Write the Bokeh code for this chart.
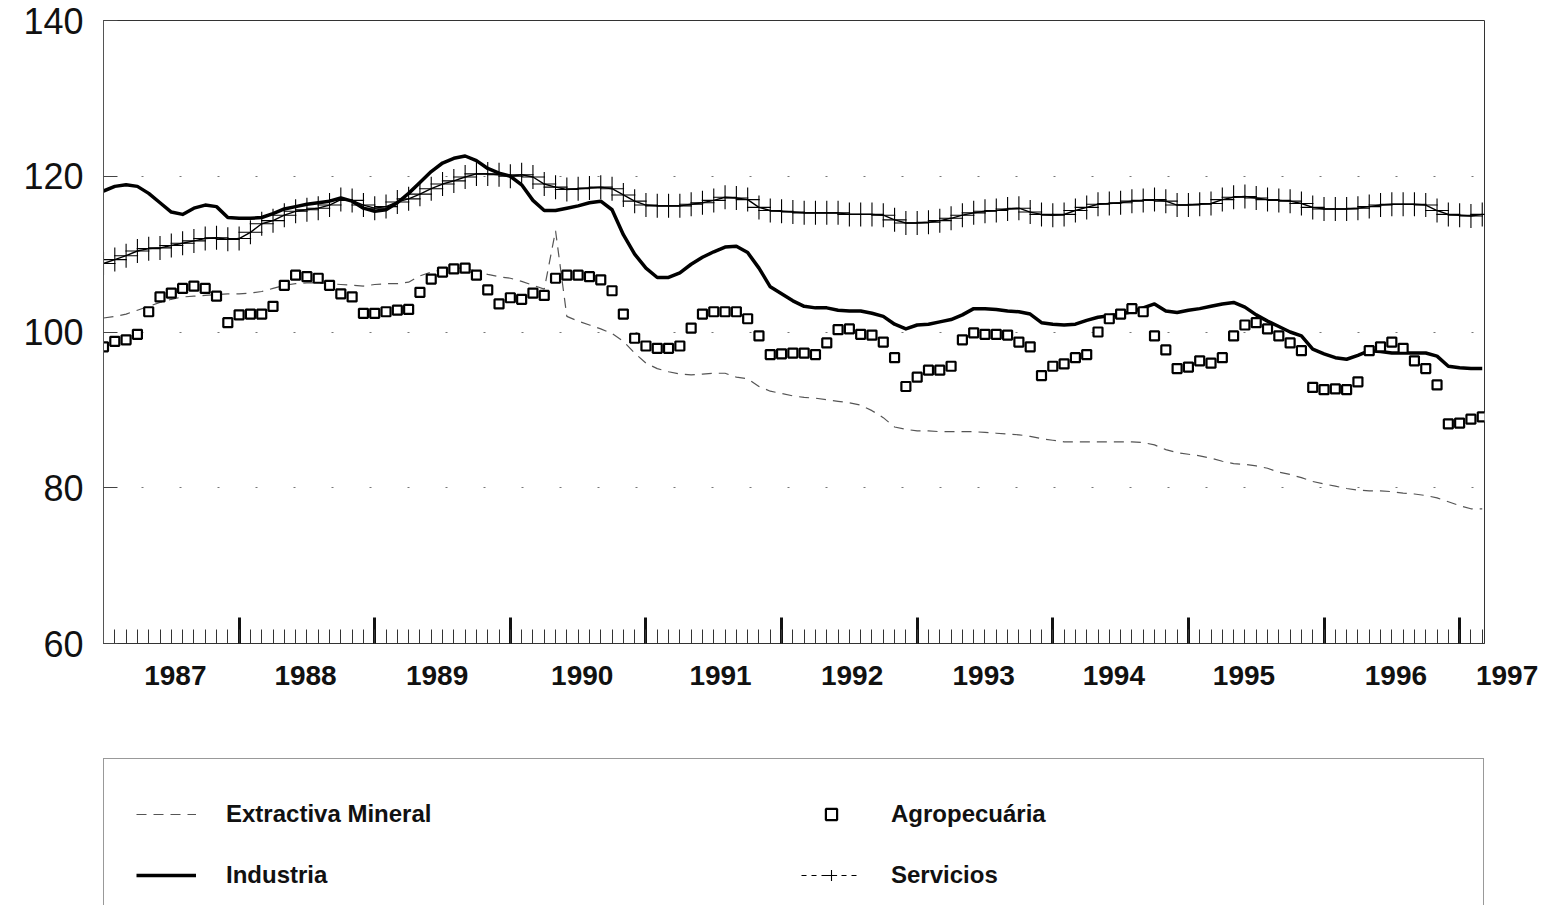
from bokeh.plotting import figure
from bokeh.models import (Range1d, FixedTicker, CustomJSTickFormatter, Legend, LegendItem)
from bokeh.embed import file_html
from bokeh.resources import INLINE

# ---------------- data (monthly, Jan 1987 .. Mar 1997) ----------------
start_year = 1987
n_months = 123
months = [start_year + i / 12 for i in range(n_months)]

extractiva = [101.8, 102.0, 102.3, 102.8, 103.3, 103.8, 104.2, 104.5, 104.6, 104.7, 104.8, 104.9,
              104.9, 105.0, 105.2, 105.6, 106.0, 106.2, 106.3, 106.3, 106.2, 106.1, 106.0, 105.9,
              106.1, 106.2, 106.2, 106.4, 107.2, 107.7, 108.0, 108.2, 108.2, 107.8, 107.4, 107.1,
              106.9, 106.5, 106.0, 105.5, 113.0, 102.0, 101.4, 100.9, 100.4, 99.8, 98.8, 97.3,
              96.0, 95.3, 94.9, 94.6, 94.5, 94.6, 94.7, 94.7, 94.2, 94.0, 93.0, 92.4,
              92.1, 91.8, 91.6, 91.5, 91.3, 91.1, 90.9, 90.6, 89.9, 89.0, 87.8, 87.5,
              87.3, 87.3, 87.2, 87.2, 87.2, 87.2, 87.1, 87.0, 86.9, 86.8, 86.6, 86.3,
              86.1, 85.9, 85.9, 85.9, 85.9, 85.9, 85.9, 85.9, 85.8, 85.5, 84.9, 84.5,
              84.3, 84.1, 83.8, 83.4, 83.1, 83.0, 82.8, 82.5, 82.0, 81.7, 81.3, 80.8,
              80.5, 80.2, 79.9, 79.7, 79.6, 79.6, 79.5, 79.3, 79.2, 79.0, 78.7, 78.2,
              77.7, 77.3, 77.3]

industria = [118.1, 118.7, 118.9, 118.7, 117.8, 116.6, 115.4, 115.1, 115.9, 116.3, 116.1, 114.7,
             114.6, 114.6, 114.7, 115.2, 115.8, 116.1, 116.4, 116.6, 116.8, 117.2, 116.8, 115.9,
             115.5, 115.7, 116.6, 117.8, 119.2, 120.6, 121.7, 122.3, 122.6, 122.0, 121.0, 120.4,
             120.0, 118.9, 116.9, 115.6, 115.6, 115.9, 116.2, 116.6, 116.8, 115.7, 112.5, 110.0,
             108.2, 107.0, 107.0, 107.6, 108.7, 109.6, 110.3, 110.9, 111.0, 110.2, 108.2, 105.8,
             104.9, 104.0, 103.3, 103.1, 103.1, 102.8, 102.7, 102.7, 102.4, 102.0, 101.0, 100.4,
             100.9, 101.0, 101.3, 101.6, 102.2, 103.0, 103.0, 102.9, 102.7, 102.6, 102.3, 101.2,
             101.0, 100.9, 101.0, 101.5, 101.9, 102.1, 102.3, 102.6, 103.1, 103.6, 102.7, 102.5,
             102.8, 103.0, 103.3, 103.6, 103.8, 103.2, 102.2, 101.4, 100.7, 100.0, 99.5, 97.8,
             97.2, 96.7, 96.5, 97.0, 97.6, 97.5, 97.3, 97.3, 97.3, 97.3, 96.9, 95.6,
             95.4, 95.3, 95.3]

agropecuaria = [98.1, 98.8, 99.0, 99.7, 102.6, 104.5, 105.0, 105.6, 105.9, 105.6, 104.6, 101.2,
                102.2, 102.3, 102.3, 103.3, 106.0, 107.3, 107.1, 106.9, 106.0, 104.9, 104.5, 102.4,
                102.4, 102.6, 102.8, 102.9, 105.1, 106.8, 107.7, 108.1, 108.2, 107.3, 105.4, 103.6,
                104.4, 104.2, 105.0, 104.7, 106.9, 107.3, 107.3, 107.1, 106.7, 105.3, 102.3, 99.2,
                98.2, 97.9, 97.9, 98.2, 100.5, 102.3, 102.6, 102.6, 102.6, 101.7, 99.5, 97.1,
                97.2, 97.3, 97.3, 97.1, 98.6, 100.3, 100.4, 99.7, 99.6, 98.7, 96.7, 93.0,
                94.2, 95.1, 95.1, 95.6, 99.0, 99.9, 99.7, 99.7, 99.6, 98.7, 98.1, 94.4,
                95.6, 95.9, 96.7, 97.1, 100.0, 101.7, 102.3, 103.0, 102.6, 99.5, 97.7, 95.3,
                95.5, 96.3, 96.0, 96.7, 99.5, 100.9, 101.2, 100.4, 99.5, 98.6, 97.6, 92.9,
                92.6, 92.7, 92.6, 93.6, 97.6, 98.1, 98.7, 97.9, 96.3, 95.3, 93.2, 88.2,
                88.3, 88.8, 89.1]

servicios = [108.8, 109.3, 109.8, 110.4, 110.7, 110.8, 111.1, 111.4, 111.7, 112.0, 112.1, 111.9,
             112.0, 112.8, 113.9, 114.3, 115.0, 115.5, 115.7, 115.9, 116.3, 117.0, 116.9, 116.3,
             115.9, 116.1, 116.7, 117.1, 117.7, 118.4, 119.0, 119.4, 119.9, 120.3, 120.3, 120.2,
             120.0, 120.2, 119.9, 119.0, 118.6, 118.3, 118.4, 118.5, 118.6, 118.4, 117.6, 116.8,
             116.3, 116.2, 116.2, 116.2, 116.4, 116.6, 116.9, 117.3, 117.2, 117.0, 116.0, 115.6,
             115.5, 115.4, 115.3, 115.3, 115.3, 115.3, 115.1, 115.1, 115.1, 115.0, 114.4, 114.0,
             114.0, 114.1, 114.3, 114.6, 115.0, 115.3, 115.5, 115.6, 115.8, 115.9, 115.4, 115.1,
             115.0, 115.1, 115.6, 116.0, 116.4, 116.5, 116.6, 116.8, 116.9, 117.0, 116.8, 116.3,
             116.3, 116.4, 116.5, 117.0, 117.3, 117.4, 117.2, 117.0, 116.9, 116.8, 116.5, 116.0,
             115.8, 115.8, 115.8, 115.9, 116.1, 116.3, 116.4, 116.4, 116.4, 116.3, 115.6, 115.1,
             115.0, 114.9, 115.1]

for s in (extractiva, industria, agropecuaria, servicios):
    assert len(s) == n_months, len(s)

y_ticks = [60, 80, 100, 120, 140]
grid_levels = [80, 100, 120]
year_ticks = [1988, 1989, 1990, 1991, 1992, 1993, 1994, 1995, 1996, 1997]
# positions of the year labels as printed on the original (decimal years)
year_label_pos = [1987.53, 1988.49, 1989.46, 1990.53, 1991.55, 1992.52,
                  1993.49, 1994.45, 1995.41, 1996.53, 1997.35]

FONT = "Liberation Sans"

# ---------------- layout sizes ----------------
W = 1550
LEFT = 103
FRAME_W = 1381
TOP = 20
FRAME_H = 623
P1_BOTTOM = 25
P1_H = TOP + FRAME_H + P1_BOTTOM
OVERLAP = P1_BOTTOM
P2_TOP = 57
P2_H = 905 - (P1_H - OVERLAP)

x_end = months[-1] + 0.2 / 12
px_per_year = FRAME_W / (x_end - start_year)
p2_frame_w = W - LEFT
p2_end = start_year + p2_frame_w / px_per_year

# ---------------- main chart ----------------
p = figure(width=W, height=P1_H, output_backend="svg", toolbar_location=None,
           x_range=Range1d(start_year, x_end), y_range=Range1d(60, 140),
           min_border_left=LEFT, min_border_right=W - LEFT - FRAME_W,
           min_border_top=TOP, min_border_bottom=P1_BOTTOM,
           background_fill_color="white", border_fill_color="white")
p.outline_line_color = "#333333"
p.outline_line_width = 1

p.yaxis.ticker = FixedTicker(ticks=y_ticks)
p.yaxis.major_label_text_font = FONT
p.yaxis.major_label_text_font_size = "36px"
p.yaxis.major_label_text_color = "#111111"
p.yaxis.major_label_standoff = 20
p.yaxis.major_tick_in = 14
p.yaxis.major_tick_out = 0
p.yaxis.major_tick_line_color = "#444444"
p.yaxis.minor_tick_line_color = None
p.yaxis.axis_line_color = "#555555"

p.xgrid.visible = False
p.ygrid.ticker = FixedTicker(ticks=grid_levels)
p.ygrid.grid_line_color = "#777777"
p.ygrid.grid_line_dash = "2 36"
p.ygrid.grid_line_width = 1

# x axis: tick marks only (months + year boundaries)
p.xaxis.ticker = FixedTicker(ticks=year_ticks, minor_ticks=months)
p.xaxis.formatter = CustomJSTickFormatter(code="return ''")
p.xaxis.major_label_text_font_size = "1px"
p.xaxis.major_label_standoff = 0
p.xaxis.major_tick_in = 26
p.xaxis.major_tick_out = 0
p.xaxis.major_tick_line_width = 3
p.xaxis.major_tick_line_color = "#111111"
p.xaxis.minor_tick_in = 14
p.xaxis.minor_tick_out = 0
p.xaxis.minor_tick_line_color = "#333333"
p.xaxis.minor_tick_line_width = 1
p.xaxis.axis_line_color = "#333333"

ext_style = dict(line_color="#555555", line_width=1.2, line_dash="10 7")
ind_style = dict(line_color="black", line_width=3.5, line_join="round")
agr_style = dict(marker="square", size=9, fill_color="white", line_color="black", line_width=2.2)
ser_l_style = dict(line_color="black", line_width=1.4)
ser_m_style = dict(marker="cross", size=24, line_color="black", line_width=1.1)

p.line(months, extractiva, **ext_style)
p.line(months, industria, **ind_style)
p.scatter(months, agropecuaria, **agr_style)
p.line(months, servicios, **ser_l_style)
p.scatter(months, servicios, **ser_m_style)

# ---------------- year labels + legend (second, transparent root) ----------------
p2 = figure(width=W, height=P2_H, output_backend="svg", toolbar_location=None,
            x_range=Range1d(start_year, p2_end), y_range=Range1d(0, 1),
            x_axis_location="above", y_axis_type=None,
            min_border_left=LEFT, min_border_right=0, min_border_top=P2_TOP,
            min_border_bottom=0, background_fill_color=None, border_fill_color=None)
p2.margin = (-OVERLAP, 0, 0, 0)
p2.outline_line_color = None
p2.grid.visible = False
ax = p2.xaxis[0]
ax.ticker = FixedTicker(ticks=year_label_pos)
ax.formatter = CustomJSTickFormatter(code="return Math.floor(tick + 1e-6).toFixed(0)")
ax.major_tick_in = 0
ax.major_tick_out = 0
ax.minor_tick_in = 0
ax.minor_tick_out = 0
ax.major_tick_line_color = None
ax.minor_tick_line_color = None
ax.axis_line_color = None
ax.major_label_standoff = 16
ax.major_label_text_font = FONT
ax.major_label_text_font_size = "28px"
ax.major_label_text_font_style = "bold"
ax.major_label_text_color = "#111111"

# legend proxies: same series, but this panel's y range (0..1) keeps them out of view
l_ext = p2.line(months, extractiva, **ext_style)
l_ind = p2.line(months, industria, **ind_style)
l_agr = p2.scatter(months, agropecuaria, **agr_style)
l_ser_l = p2.line(months, servicios, line_color="black", line_width=1.0, line_dash="5 5")
l_ser_m = p2.scatter(months, servicios, **ser_m_style)

FRAME2_H = P2_H - P2_TOP
LEG_H = 171
LEG_TOP = 60
legend = Legend(items=[
    LegendItem(label="Extractiva Mineral", renderers=[l_ext]),
    LegendItem(label="Industria", renderers=[l_ind]),
    LegendItem(label="Agropecuária", renderers=[l_agr]),
    LegendItem(label="Servicios", renderers=[l_ser_l, l_ser_m]),
], ncols=2, location=(0, FRAME2_H - LEG_TOP - LEG_H), padding=32, spacing=15,
    glyph_width=60, glyph_height=28, label_height=46, label_width=560,
    label_standoff=30, label_text_font=FONT, label_text_font_size="24px",
    label_text_font_style="bold",
    label_text_color="#111111", border_line_color="#333333", border_line_width=1,
    background_fill_color="white", background_fill_alpha=1.0)
p2.add_layout(legend, "center")

open("out.html", "w").write(file_html([p, p2], INLINE))
